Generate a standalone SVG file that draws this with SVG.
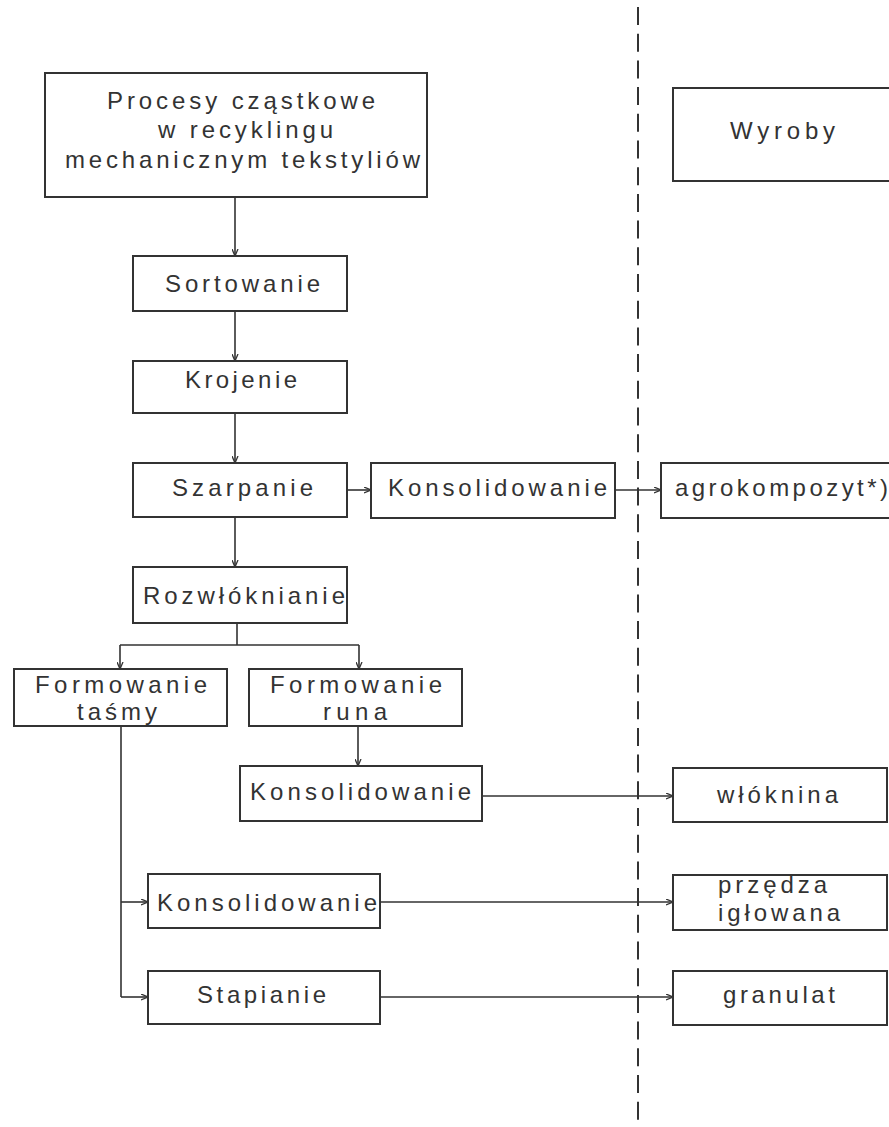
<svg xmlns="http://www.w3.org/2000/svg" width="889" height="1127" viewBox="0 0 889 1127">
<style>
  .box { fill: #ffffff; stroke: #333333; stroke-width: 2; }
  .t { font-family: "Liberation Sans", Arial, sans-serif; font-size: 24px; fill: #333333; }
  .c { fill: none; stroke: #333333; stroke-width: 1.6; }
  .d { fill: none; stroke: #333333; stroke-width: 2; stroke-dasharray: 18 8.7; }
</style>
<defs>
  <marker id="ah" viewBox="0 0 7 7" refX="7" refY="3.5" markerWidth="7" markerHeight="7" markerUnits="userSpaceOnUse" orient="auto">
    <path d="M0,0.5 L7,3.5 L0,6.5" fill="none" stroke="#333333" stroke-width="1.3"/>
  </marker>
</defs>
<rect width="889" height="1127" fill="#ffffff"/>

<g id="divider">
  <line class="d" x1="638" y1="7" x2="638" y2="1127"/>
</g>

<g id="connectors">
  <line class="c" x1="235" y1="197" x2="235" y2="256" marker-end="url(#ah)"/>
  <line class="c" x1="235" y1="311" x2="235" y2="361" marker-end="url(#ah)"/>
  <line class="c" x1="235" y1="413" x2="235" y2="463" marker-end="url(#ah)"/>
  <line class="c" x1="343" y1="490" x2="371" y2="490" marker-end="url(#ah)"/>
  <line class="c" x1="615" y1="490" x2="661" y2="490" marker-end="url(#ah)"/>
  <line class="c" x1="235" y1="517" x2="235" y2="567" marker-end="url(#ah)"/>
  <path class="c" d="M237,623 V645 M120,645 H359"/>
  <line class="c" x1="120" y1="645" x2="120" y2="669" marker-end="url(#ah)"/>
  <line class="c" x1="359" y1="645" x2="359" y2="669" marker-end="url(#ah)"/>
  <line class="c" x1="358" y1="726" x2="358" y2="766" marker-end="url(#ah)"/>
  <line class="c" x1="482" y1="796" x2="673" y2="796" marker-end="url(#ah)"/>
  <path class="c" d="M121,726 V997"/>
  <line class="c" x1="121" y1="902" x2="148" y2="902" marker-end="url(#ah)"/>
  <line class="c" x1="121" y1="997" x2="148" y2="997" marker-end="url(#ah)"/>
  <line class="c" x1="380" y1="902" x2="673" y2="902" marker-end="url(#ah)"/>
  <line class="c" x1="380" y1="997" x2="673" y2="997" marker-end="url(#ah)"/>
</g>

<g id="title">
  <rect class="box" x="45" y="73" width="382" height="124"/>
  <text class="t" x="107" y="109" textLength="268" lengthAdjust="spacing">Procesy cząstkowe</text>
  <text class="t" x="158" y="138" textLength="175" lengthAdjust="spacing">w recyklingu</text>
  <text class="t" x="65" y="168" textLength="355" lengthAdjust="spacing">mechanicznym tekstyliów</text>
</g>

<g id="wyroby">
  <rect class="box" x="673" y="88" width="240" height="93"/>
  <text class="t" x="730" y="139" textLength="105" lengthAdjust="spacing">Wyroby</text>
</g>

<g id="sortowanie">
  <rect class="box" x="133" y="256" width="214" height="55"/>
  <text class="t" x="165" y="292" textLength="155" lengthAdjust="spacing">Sortowanie</text>
</g>

<g id="krojenie">
  <rect class="box" x="133" y="361" width="214" height="52"/>
  <text class="t" x="185" y="388" textLength="112" lengthAdjust="spacing">Krojenie</text>
</g>

<g id="szarpanie">
  <rect class="box" x="133" y="463" width="214" height="54"/>
  <text class="t" x="172" y="496" textLength="141" lengthAdjust="spacing">Szarpanie</text>
</g>

<g id="konsolidowanie1">
  <rect class="box" x="371" y="463" width="244" height="55"/>
  <text class="t" x="388" y="496" textLength="219" lengthAdjust="spacing">Konsolidowanie</text>
</g>

<g id="agrokompozyt">
  <rect class="box" x="661" y="463" width="250" height="55"/>
  <text class="t" x="675" y="496" textLength="213" lengthAdjust="spacing">agrokompozyt*)</text>
</g>

<g id="rozwloknianie">
  <rect class="box" x="133" y="567" width="214" height="56"/>
  <text class="t" x="143" y="604" textLength="202" lengthAdjust="spacing">Rozwłóknianie</text>
</g>

<g id="formowanie-tasmy">
  <rect class="box" x="14" y="669" width="213" height="57"/>
  <text class="t" x="35" y="693" textLength="172" lengthAdjust="spacing">Formowanie</text>
  <text class="t" x="77" y="720" textLength="80" lengthAdjust="spacing">taśmy</text>
</g>

<g id="formowanie-runa">
  <rect class="box" x="249" y="669" width="213" height="57"/>
  <text class="t" x="270" y="693" textLength="172" lengthAdjust="spacing">Formowanie</text>
  <text class="t" x="323" y="720" textLength="64" lengthAdjust="spacing">runa</text>
</g>

<g id="konsolidowanie2">
  <rect class="box" x="240" y="766" width="242" height="55"/>
  <text class="t" x="250" y="800" textLength="221" lengthAdjust="spacing">Konsolidowanie</text>
</g>

<g id="wloknina">
  <rect class="box" x="673" y="768" width="214" height="54"/>
  <text class="t" x="717" y="803" textLength="121" lengthAdjust="spacing">włóknina</text>
</g>

<g id="konsolidowanie3">
  <rect class="box" x="148" y="874" width="232" height="54"/>
  <text class="t" x="157" y="911" textLength="220" lengthAdjust="spacing">Konsolidowanie</text>
</g>

<g id="przedza">
  <rect class="box" x="673" y="875" width="214" height="55"/>
  <text class="t" x="718" y="893" textLength="109" lengthAdjust="spacing">przędza</text>
  <text class="t" x="718" y="921" textLength="122" lengthAdjust="spacing">igłowana</text>
</g>

<g id="stapianie">
  <rect class="box" x="148" y="971" width="232" height="53"/>
  <text class="t" x="197" y="1003" textLength="129" lengthAdjust="spacing">Stapianie</text>
</g>

<g id="granulat">
  <rect class="box" x="673" y="971" width="214" height="54"/>
  <text class="t" x="723" y="1003" textLength="112" lengthAdjust="spacing">granulat</text>
</g>
</svg>
